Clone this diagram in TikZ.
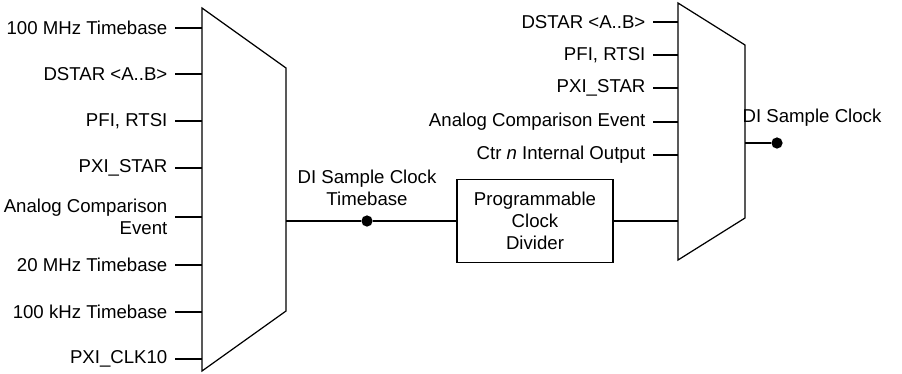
\documentclass[tikz,border=0pt]{standalone}
\usepackage{fontspec}
\setmainfont{Liberation Sans}
\usetikzlibrary{positioning}

\begin{document}
\begin{tikzpicture}[x=0.02cm,y=-0.02cm,line width=0.7pt,
  lbl/.style={anchor=east,inner xsep=4pt,inner ysep=0pt,align=right,font=\fontsize{10.6}{12.6}\selectfont},
  txt/.style={align=center,inner sep=0pt,font=\fontsize{10.6}{12.6}\selectfont},
  dot/.style={circle,fill,inner sep=0pt,minimum size=6.4pt}]
\useasboundingbox (0,0) rectangle (902,373);
% left mux (timebase select), 8 inputs
\draw (202,8) -- (286,68) -- (286,311) -- (202,371) -- cycle;
\foreach \y/\t [count=\i] in {28/100 MHz Timebase, 74/DSTAR <A..B>, 121/{PFI, RTSI}, 168/PXI\_STAR,
  217/{Analog Comparison\\Event}, 265/20 MHz Timebase, 312/100 kHz Timebase, 359/PXI\_CLK10}
  {\node[lbl] (inA\i) at (175,\y) {\t};
   \coordinate (muxA\i) at (202,\y);
   \draw (inA\i.east) -- (muxA\i);}
\coordinate (muxAout) at (286,221);
% timebase and divider
\node[dot] (tb) at (367,221) {};
\node[txt] (tblbl) at (367,188) {DI Sample Clock\\Timebase};
\node[draw,txt,minimum width=3.12cm,minimum height=1.66cm] (div) at (535,221) {Programmable\\Clock\\Divider};
\draw (muxAout) -- (tb);
\draw (tb) -- (div);
% right mux (sample clock select), 6 inputs
\draw (678,3) -- (745,45) -- (745,218) -- (678,260) -- cycle;
\foreach \y/\t [count=\i] in {22/DSTAR <A..B>, 55/{PFI, RTSI}, 88/PXI\_STAR,
  122/Analog Comparison Event, 155/Ctr \textit{n} Internal Output}
  {\node[lbl] (inB\i) at (653,\y) {\t};
   \coordinate (muxB\i) at (678,\y);
   \draw (inB\i.east) -- (muxB\i);}
\coordinate (muxB6) at (678,221);
\draw (div) -- (muxB6);
% output
\coordinate (muxBout) at (745,143);
\node[dot] (clk) at (777,143) {};
\node[txt] (clklbl) at (812,118) {DI Sample Clock};
\draw (muxBout) -- (clk);
\end{tikzpicture}
\end{document}
